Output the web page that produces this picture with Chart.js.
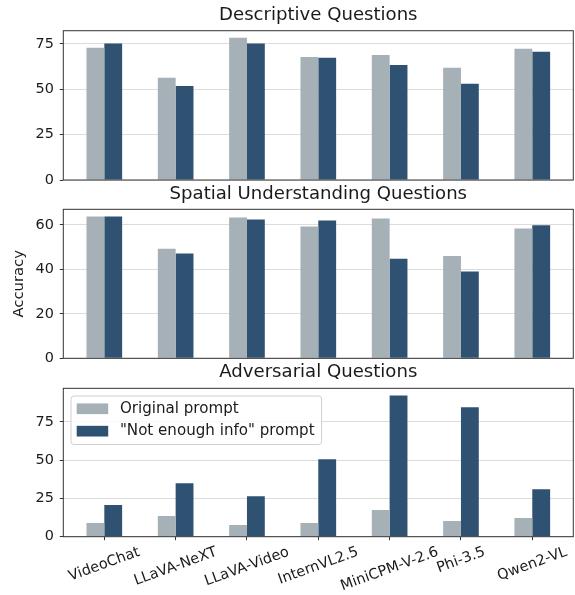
<!DOCTYPE html>
<html>
<head>
<meta charset="utf-8">
<script src="https://cdn.jsdelivr.net/npm/chart.js@4"></script>
<style>
body{margin:0;background:#fff;}
#wrap{position:relative;width:575px;height:595px;}
canvas{position:absolute;left:0;}
</style>
</head>
<body>
<div id="wrap">
	<canvas id="c_desc" width="575" height="195" style="top:0px"></canvas>
	<canvas id="c_spat" width="575" height="196" style="top:178px"></canvas>
	<canvas id="c_adv" width="575" height="240" style="top:355px"></canvas>
</div>
<script>
const models = ['VideoChat', 'LLaVA-NeXT', 'LLaVA-Video', 'InternVL2.5', 'MiniCPM-V-2.6', 'Phi-3.5', 'Qwen2-VL'];
const series_names = ['Original prompt', '"Not enough info" prompt'];

// accuracy
const desc_orig = [72.8, 56.3, 78.3, 67.8, 68.9, 61.8, 72.3];
const desc_nei  = [75.2, 51.8, 75.2, 67.3, 63.4, 53.0, 70.6];
const spat_orig = [63.8, 49.3, 63.3, 59.3, 62.9, 46.0, 58.4];
const spat_nei  = [63.8, 47.1, 62.4, 62.0, 44.8, 39.0, 59.8];
const adv_orig  = [8.9, 13.5, 7.6, 8.9, 17.4, 10.2, 12.2];
const adv_nei   = [20.7, 35.0, 26.5, 50.7, 92.4, 84.6, 31.1];

const desc_ticks = [0, 25, 50, 75];
const spat_ticks = [0, 20, 40, 60];
const adv_ticks  = [0, 25, 50, 75];

const colors = ['#a5b1b7', '#2f5272'];
const FONT = 'DejaVu Sans';
const TEXT = '#1a1a1a';
const TICK_FS = 14.4;
const XLAB_FS = 14.5;
const LEG_FS = 15.1;
const TITLE_FS = 18.1;

let box_plugin = {
	id: 'box',
	afterDraw(chart){
		let a = chart.chartArea, ctx = chart.ctx;
		ctx.save();
		ctx.strokeStyle = '#333';
		ctx.lineWidth = 1;
		ctx.strokeRect(a.left, a.top, a.right - a.left, a.bottom - a.top);
		ctx.restore();
	}
}

let xlabels_plugin = {
	id: 'xlabels',
	afterDraw(chart){
		let s = chart.scales.x, a = chart.chartArea, ctx = chart.ctx;
		let th = 20 * Math.PI / 180;
		ctx.save();
		ctx.font = `${XLAB_FS}px "${FONT}"`;
		ctx.fillStyle = TEXT;
		ctx.textAlign = 'center';
		ctx.textBaseline = 'middle';
		models.forEach((m, i)=>{
			let w = ctx.measureText(m).width;
			let h = XLAB_FS * 1.17;
			let H = w * Math.sin(th) + h * Math.cos(th);
			ctx.save();
			ctx.translate(s.getPixelForValue(i), a.bottom + 7 + H / 2);
			ctx.rotate(-th);
			ctx.fillText(m, 0, 0);
			ctx.restore();
		})
		ctx.restore();
	}
}

let legend_plugin = {
	id: 'inlegend',
	afterDraw(chart){
		let a = chart.chartArea, ctx = chart.ctx;
		ctx.save();
		ctx.font = `${LEG_FS}px "${FONT}"`;
		let tw = Math.max(...chart.data.datasets.map(d => ctx.measureText(d.label).width));
		let x0 = a.left + 7.7, y0 = a.top + 7.7;
		let w = 5.7 + 31.5 + 11.7 + tw + 7, h = 48.5;
		ctx.beginPath();
		ctx.roundRect(x0, y0, w, h, 3);
		ctx.fillStyle = 'rgba(255,255,255,0.8)';
		ctx.fill();
		ctx.strokeStyle = '#d0d0d0';
		ctx.lineWidth = 1;
		ctx.stroke();
		ctx.textBaseline = 'middle';
		chart.data.datasets.forEach((d, i)=>{
			let cy = y0 + 12.7 + i * 22.4;
			ctx.fillStyle = d.backgroundColor;
			ctx.fillRect(x0 + 5.7, cy - 5.3, 31.5, 10.7);
			ctx.fillStyle = TEXT;
			ctx.fillText(d.label, x0 + 5.7 + 31.5 + 11.7, cy);
		})
		ctx.restore();
	}
}

function make_panel(id, title, orig, nei, o){
	let all = orig.concat(nei);
	let plugins = [box_plugin];
	if (o.bottom) plugins.push(xlabels_plugin, legend_plugin);
	return new Chart(id, {
		type: 'bar',
		data: {
			datasets: [orig, nei].map((vals, k)=>({
				label: series_names[k],
				data: vals.map((v, i)=>({x: i, y: v})),
				backgroundColor: colors[k],
				borderWidth: 0,
				barPercentage: 1,
				categoryPercentage: 0.5
			}))
		},
		options: {
			responsive: false,
			animation: false,
			layout: { padding: { left: 0, right: 1.7, top: 0, bottom: 0 } },
			plugins: {
				legend: { display: false },
				tooltip: { enabled: false },
				title: {
					display: true,
					fullSize: false,
					text: title,
					color: TEXT,
					font: { family: FONT, size: TITLE_FS, weight: 'normal' },
					padding: { top: o.tpad[0], bottom: o.tpad[1] }
				}
			},
			scales: {
				x: {
					type: 'linear',
					min: -0.575,
					max: models.length - 1 + 0.575,
					offset: false,
					afterBuildTicks: (s)=>{ s.ticks = models.map((m, i)=>({value: i})) },
					afterFit: (s)=>{ s.height = o.x_h },
					border: { display: false },
					grid: {
						display: !!o.bottom,
						offset: false,
						drawOnChartArea: false,
						drawTicks: true,
						tickLength: 3.5,
						tickColor: '#333'
					},
					ticks: { display: false }
				},
				y: {
					min: 0,
					max: Math.max(...all) * 1.05,
					afterBuildTicks: (s)=>{ s.ticks = o.ticks.map(v=>({value: v})) },
					afterFit: (s)=>{ s.width = 63.3 },
					border: { display: false },
					grid: {
						color: '#dcdcdc',
						lineWidth: 1,
						tickLength: 3.5,
						tickColor: '#333'
					},
					ticks: {
						color: TEXT,
						padding: 6,
						font: { family: FONT, size: TICK_FS }
					},
					title: {
						display: !!o.ylabel,
						text: o.ylabel || '',
						color: TEXT,
						font: { family: FONT, size: 14.8 },
						padding: { top: 10.3, bottom: 0 }
					}
				}
			}
		},
		plugins: plugins
	})
}

window.onload = () => {
	make_panel('c_desc', 'Descriptive Questions', desc_orig, desc_nei, { tpad: [4.3, 4.7], x_h: 15, ticks: desc_ticks });
	make_panel('c_spat', 'Spatial Understanding Questions', spat_orig, spat_nei, { tpad: [5.5, 4.1], x_h: 15.7, ticks: spat_ticks, ylabel: 'Accuracy' });
	make_panel('c_adv', 'Adversarial Questions', adv_orig, adv_nei, { tpad: [6.3, 5.3], x_h: 58.3, ticks: adv_ticks, bottom: true });
};
</script>
</body>
</html>
